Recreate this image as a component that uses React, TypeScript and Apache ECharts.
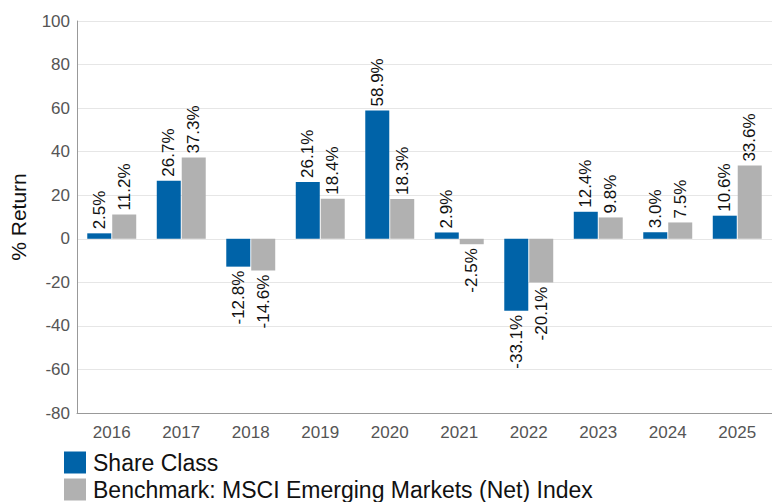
import React, { useEffect, useRef } from "react";
import * as echarts from "echarts";

const years = ["2016", "2017", "2018", "2019", "2020", "2021", "2022", "2023", "2024", "2025"];
const shareClass = [2.5, 26.7, -12.8, 26.1, 58.9, 2.9, -33.1, 12.4, 3.0, 10.6];
const benchmark = [11.2, 37.3, -14.6, 18.4, 18.3, -2.5, -20.1, 9.8, 7.5, 33.6];
const seriesNames = ["Share Class", "Benchmark: MSCI Emerging Markets (Net) Index"];
const colors = ["#0063A8", "#B1B1B1"];

const FONT = "Liberation Sans, Arial, sans-serif";

function toData(values: number[]) {
  return values.map((v) =>
    v < 0
      ? { value: v, label: { position: "bottom", align: "right" } }
      : { value: v, label: { position: "top", align: "left" } }
  );
}

export default function App() {
  const ref = useRef<HTMLDivElement>(null);
  useEffect(() => {
    if (!ref.current) return;
    const chart = echarts.init(ref.current, null, { renderer: "svg" });
    const label = {
      show: true,
      rotate: 90,
      distance: 4,
      verticalAlign: "middle",
      fontSize: 17,
      fontFamily: FONT,
      color: "#111",
      formatter: (p: any) => Number(p.value).toFixed(1) + "%",
    };
    const legendBase = {
      orient: "horizontal",
      left: 64,
      padding: 0,
      itemWidth: 22,
      itemHeight: 22,
      itemGap: 5,
      icon: "rect",
      textStyle: { fontSize: 23, color: "#111", fontFamily: FONT, padding: [0, 0, 0, 2] },
    };
    chart.setOption({
      animation: false,
      textStyle: { fontFamily: FONT },
      grid: { left: 72, right: 0, top: 21, bottom: 89, containLabel: false },
      legend: [
        { ...legendBase, top: 451, data: [seriesNames[0]] },
        { ...legendBase, top: 478, data: [seriesNames[1]] },
      ],
      xAxis: {
        type: "category",
        data: years,
        axisLine: { onZero: false, lineStyle: { color: "#999" } },
        axisTick: { show: false },
        axisLabel: { fontSize: 17, color: "#555", margin: 11, fontFamily: FONT },
      },
      yAxis: {
        type: "value",
        min: -80,
        max: 100,
        interval: 20,
        name: "% Return",
        nameLocation: "middle",
        nameGap: 48,
        nameTextStyle: { fontSize: 21, color: "#111", fontFamily: FONT },
        axisLine: { show: true, lineStyle: { color: "#999" } },
        axisTick: { show: false },
        axisLabel: { fontSize: 17, color: "#555", margin: 7, fontFamily: FONT },
        splitLine: { lineStyle: { color: "#e6e6e6" } },
      },
      series: [
        {
          name: seriesNames[0],
          type: "bar",
          data: toData(shareClass),
          itemStyle: { color: colors[0] },
          barWidth: 24,
          barGap: "4%",
          label,
        },
        {
          name: seriesNames[1],
          type: "bar",
          data: toData(benchmark),
          itemStyle: { color: colors[1] },
          barWidth: 24,
          label,
        },
      ],
    });
    return () => chart.dispose();
  }, []);
  return <div ref={ref} style={{ width: 772, height: 502, position: "absolute", left: 0, top: 0 }} />;
}
